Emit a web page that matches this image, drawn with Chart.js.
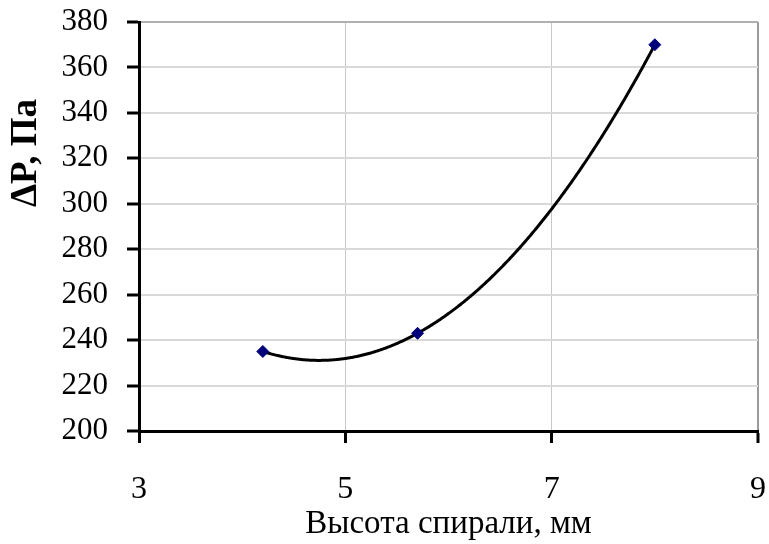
<!DOCTYPE html>
<html>
<head>
<meta charset="utf-8">
<script src="https://cdn.jsdelivr.net/npm/chart.js@4/dist/chart.umd.min.js"></script>
<style>
  body { margin: 0; background: #fff; }
  #wrap { width: 769px; height: 544px; }
</style>
</head>
<body>
<div id="wrap"><canvas id="c" width="769" height="544"></canvas></div>
<script>
// data
const heights = [4.2, 5.7, 8.0];        // высота спирали, мм
const pressures = [235, 243, 370];      // ΔP, Па
const xTicks = [3, 5, 7, 9];
const yTicks = [200, 220, 240, 260, 280, 300, 320, 340, 360, 380];
const xTitle = 'Высота спирали, мм';
const yTitle = 'ΔP, Па';

const serif = '"Liberation Serif", "DejaVu Serif", serif';

// 2nd order polynomial trendline (like the spreadsheet one) fitted to the points
function quadFit(xs, ys) {
  const n = xs.length;
  let s = [0, 0, 0, 0, 0], t = [0, 0, 0];
  for (let i = 0; i < n; i++) {
    for (let k = 0; k < 5; k++) s[k] += Math.pow(xs[i], k);
    for (let k = 0; k < 3; k++) t[k] += ys[i] * Math.pow(xs[i], k);
  }
  // solve normal equations 3x3
  const m = [
    [s[0], s[1], s[2], t[0]],
    [s[1], s[2], s[3], t[1]],
    [s[2], s[3], s[4], t[2]],
  ];
  for (let i = 0; i < 3; i++) {
    for (let j = i + 1; j < 3; j++) {
      const f = m[j][i] / m[i][i];
      for (let k = i; k < 4; k++) m[j][k] -= f * m[i][k];
    }
  }
  const c = [0, 0, 0];
  for (let i = 2; i >= 0; i--) {
    let v = m[i][3];
    for (let k = i + 1; k < 3; k++) v -= m[i][k] * c[k];
    c[i] = v / m[i][i];
  }
  return c; // c0 + c1 x + c2 x^2
}

const coef = quadFit(heights, pressures);

const trendline = {
  id: 'trendline',
  beforeDatasetsDraw(chart) {
    const { ctx, scales: { x, y } } = chart;
    const x0 = Math.min(...heights), x1 = Math.max(...heights);
    ctx.save();
    ctx.beginPath();
    const px0 = x.getPixelForValue(x0), px1 = x.getPixelForValue(x1);
    for (let px = px0; px <= px1 + 0.01; px += 1) {
      const v = x.getValueForPixel(px);
      const py = y.getPixelForValue(coef[0] + coef[1] * v + coef[2] * v * v);
      if (px === px0) ctx.moveTo(px, py); else ctx.lineTo(px, py);
    }
    ctx.strokeStyle = '#000';
    ctx.lineWidth = 3;
    ctx.lineJoin = 'round';
    ctx.stroke();
    ctx.restore();
  }
};

// rotated bold y title, placed like in the picture
const yTitlePlugin = {
  id: 'yTitle',
  afterDraw(chart) {
    const { ctx } = chart;
    ctx.save();
    ctx.translate(26, 153);
    ctx.rotate(-Math.PI / 2);
    ctx.font = 'bold 37px ' + serif;
    ctx.fillStyle = '#000';
    ctx.textAlign = 'center';
    ctx.textBaseline = 'middle';
    ctx.fillText(yTitle, 0, 0);
    ctx.restore();
  }
};

// no automatic room for overhanging tick labels, the padding below sets the plot box
function noLabelPadding(s) {
  s.paddingLeft = s.paddingRight = s.paddingTop = s.paddingBottom = 0;
}

new Chart(document.getElementById('c'), {
  type: 'scatter',
  data: {
    datasets: [{
      data: heights.map((h, i) => ({ x: h, y: pressures[i] })),
      pointStyle: 'rectRot',
      pointRadius: 6,
      backgroundColor: '#00007a',
      borderColor: '#00007a',
      borderWidth: 1,
    }]
  },
  options: {
    responsive: false,
    animation: false,
    layout: { padding: { left: 0, top: 22, right: 11, bottom: 0 } },
    plugins: { legend: { display: false }, tooltip: { enabled: false } },
    scales: {
      x: {
        type: 'linear',
        min: 3,
        max: 9,
        afterBuildTicks: (s) => { s.ticks = xTicks.map(v => ({ value: v })); },
        afterFit: (s) => { s.height = 113; noLabelPadding(s); },
        ticks: {
          color: '#000',
          font: { family: serif, size: 32 },
          padding: 27,
        },
        grid: {
          color: (c) => c.tick && c.tick.value === 9 ? '#9a9a9a' : '#c8c8c8',
          lineWidth: (c) => c.tick && c.tick.value === 9 ? 2 : 1,
          tickColor: '#000',
          tickWidth: 3,
          tickLength: 12,
        },
        border: { color: '#000', width: 3 },
        title: {
          display: true,
          text: xTitle,
          color: '#000',
          font: { family: serif, size: 33 },
          padding: { top: 0, bottom: 0 },
        },
      },
      y: {
        min: 200,
        max: 380,
        afterBuildTicks: (s) => { s.ticks = yTicks.map(v => ({ value: v })); },
        afterFit: (s) => { s.width = 139; noLabelPadding(s); },
        ticks: {
          color: '#000',
          font: { family: serif, size: 31 },
          padding: 19,
        },
        grid: {
          color: (c) => c.tick && c.tick.value === 380 ? '#b0b0b0' : '#d9d9d9',
          lineWidth: 2,
          tickColor: '#000',
          tickWidth: 3,
          tickLength: 12,
        },
        border: { color: '#000', width: 3 },
      }
    }
  },
  plugins: [trendline, yTitlePlugin]
});
</script>
</body>
</html>
